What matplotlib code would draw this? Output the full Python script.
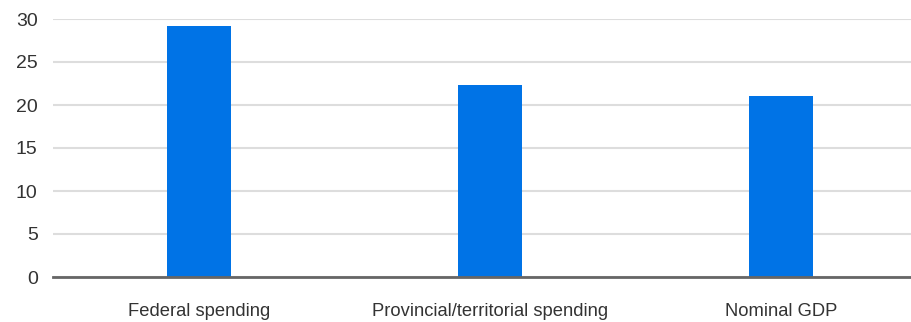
import matplotlib.pyplot as plt

categories = ["Federal spending", "Provincial/territorial spending", "Nominal GDP"]
values = [29.2, 22.3, 21.05]
yticks = [0, 5, 10, 15, 20, 25, 30]

plt.rcParams['font.family'] = ['Liberation Sans', 'DejaVu Sans']

fig = plt.figure(figsize=(9.11, 3.22), dpi=100)
ax = fig.add_axes([53/911, 1 - 277/322, (911-53)/911, (277-19)/322])

x = range(len(categories))
ax.bar(x, values, width=0.22, color="#0073e6", zorder=3)

ax.set_xlim(-0.502, 2.447)
ax.set_ylim(0, 30)
ax.set_yticks(yticks)
ax.set_xticks(list(x))
ax.set_xticklabels(categories)
ax.tick_params(axis='both', length=0, colors="#333333")
ax.tick_params(axis='x', pad=19, labelsize=13.2)
ax.tick_params(axis='y', pad=11, labelsize=14)

ax.grid(axis='y', color="#dddddd", linewidth=1.5, zorder=0)
for s in ["top", "right", "left"]:
    ax.spines[s].set_visible(False)
ax.spines["bottom"].set_color("#666666")
ax.spines["bottom"].set_linewidth(2)
ax.spines["bottom"].set_zorder(4)

fig.savefig("out.png", dpi=100)
